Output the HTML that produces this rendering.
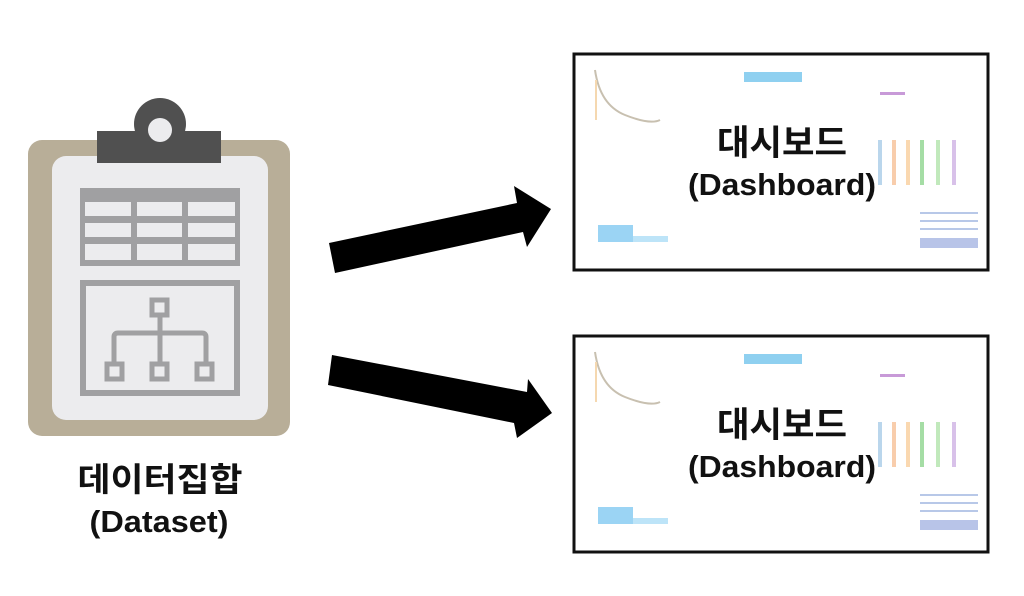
<!DOCTYPE html>
<html><head><meta charset="utf-8"><style>
html,body{margin:0;padding:0;background:#fff;}
svg{display:block}
text{font-family:"Liberation Sans","Noto Sans CJK KR",sans-serif;font-weight:bold;fill:#111}
</style></head><body>
<svg width="1024" height="596" viewBox="0 0 1024 596">
<!-- clipboard -->
<rect x="28" y="140" width="262" height="296" rx="14" fill="#b8ae98"/>
<rect x="52" y="156" width="216" height="264" rx="14" fill="#ececee"/>
<rect x="97" y="131" width="124" height="32" fill="#505050"/>
<circle cx="160" cy="124" r="26" fill="#505050"/>
<circle cx="160" cy="130" r="12" fill="#ececee"/>
<!-- table -->
<rect x="80" y="188" width="160" height="78" fill="#a0a0a2"/>
<g fill="#ececee">
<rect x="85" y="202" width="46" height="14"/><rect x="137" y="202" width="45" height="14"/><rect x="188" y="202" width="47" height="14"/>
<rect x="85" y="223" width="46" height="14"/><rect x="137" y="223" width="45" height="14"/><rect x="188" y="223" width="47" height="14"/>
<rect x="85" y="244" width="46" height="16"/><rect x="137" y="244" width="45" height="16"/><rect x="188" y="244" width="47" height="16"/>
</g>
<rect x="83" y="283" width="154" height="110" fill="none" stroke="#a0a0a2" stroke-width="6"/>
<g fill="none" stroke="#a0a0a2" stroke-width="5">
<rect x="152" y="300" width="15" height="15"/>
<path d="M160 317 V362 M114 362 V337 Q114 333 118 333 H202 Q206 333 206 337 V362"/>
<rect x="107" y="364" width="15" height="15"/><rect x="152" y="364" width="15" height="15"/><rect x="197" y="364" width="15" height="15"/>
</g>
<text x="160" y="491" font-size="33" text-anchor="middle" textLength="165" lengthAdjust="spacingAndGlyphs">데이터집합</text>
<text x="159" y="532" font-size="31" text-anchor="middle" textLength="139" lengthAdjust="spacingAndGlyphs">(Dataset)</text>
<!-- arrows -->
<polygon points="329,243 517,203 514,186 551,209 527,247 523,232 335,273" fill="#000"/>
<polygon points="332,355 527,392 528,379 552,413 517,438 514,423 328,385" fill="#000"/>
<!-- dashboards -->
<g id="d1">
<rect x="574" y="54" width="414" height="216" fill="#fff" stroke="#111" stroke-width="3"/>
<path d="M595 70 Q600 105 625 115 T660 120" fill="none" stroke="#c8c0b0" stroke-width="2"/>
<rect x="595" y="80" width="2" height="40" fill="#f5d8b0"/>
<rect x="744" y="72" width="58" height="10" fill="#8fd0f0"/>
<rect x="880" y="92" width="25" height="3" fill="#c89ad8"/>
<g opacity="0.7"><rect x="878" y="140" width="4" height="45" fill="#9cc4e4"/><rect x="892" y="140" width="4" height="45" fill="#f6b88a"/><rect x="906" y="140" width="4" height="45" fill="#f8c890"/><rect x="920" y="140" width="4" height="45" fill="#80d080"/><rect x="936" y="140" width="4" height="45" fill="#a8e0a0"/><rect x="952" y="140" width="4" height="45" fill="#c8a8e0"/></g>
<rect x="598" y="225" width="35" height="17" fill="#9bd4f4"/><rect x="633" y="236" width="35" height="6" fill="#bde4f8"/>
<rect x="920" y="212" width="58" height="2" fill="#b8c8e8"/><rect x="920" y="220" width="58" height="2" fill="#b8c8e8"/><rect x="920" y="228" width="58" height="2" fill="#b8c8e8"/>
<rect x="920" y="238" width="58" height="10" fill="#b8c4e8"/>
<text x="782" y="155" font-size="35" text-anchor="middle" textLength="130" lengthAdjust="spacingAndGlyphs">대시보드</text>
<text x="782" y="195" font-size="31" text-anchor="middle" textLength="188" lengthAdjust="spacingAndGlyphs">(Dashboard)</text>
</g>
<use href="#d1" transform="translate(0,282)"/>
</svg>
</body></html>
